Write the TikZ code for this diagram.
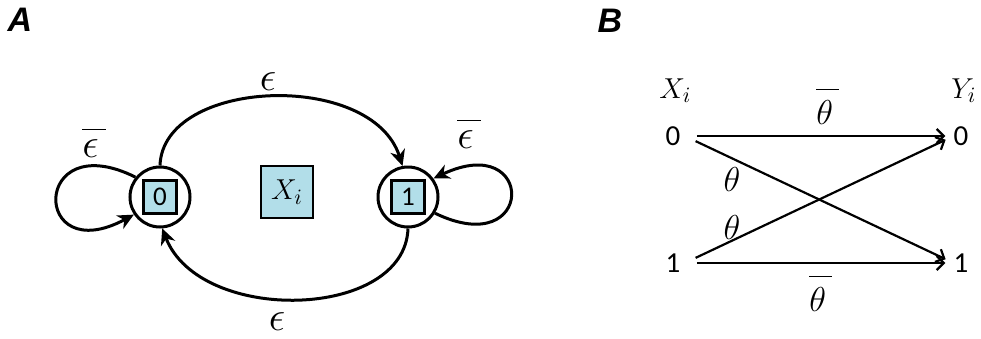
\documentclass[tikz,border=0pt]{standalone}
\usepackage{fontspec}
\newfontfamily\digitfont{Carlito}
\newfontfamily\panelfont{Liberation Sans}
\usetikzlibrary{arrows.meta}
\definecolor{stateblue}{RGB}{178,222,233}
% bar set high above its symbol, as in the figure
\newcommand{\highbar}[2]{\overline{\rule{0pt}{#1}#2\,}}

\begin{document}
\begin{tikzpicture}[x=0.5pt, y=-0.5pt,
  state/.style={circle, draw, line width=1.5pt, minimum size=30pt, inner sep=0pt},
  bit/.style={rectangle, draw, line width=1.3pt, fill=stateblue, minimum size=16.5pt, inner sep=0pt, font=\fontsize{13.5}{15}\digitfont},
  var/.style={rectangle, draw, line width=1pt, fill=stateblue, minimum size=26pt, inner sep=0pt, font=\fontsize{15}{17}\selectfont},
  dig/.style={inner sep=2pt, font=\fontsize{14.5}{16}\digitfont},
  lbl/.style={inner sep=0pt, anchor=base, font=\fontsize{15}{17}\selectfont},
  tlbl/.style={inner sep=0pt, anchor=base, font=\fontsize{16.5}{18}\selectfont},
  elbl/.style={inner sep=0pt, anchor=base, font=\fontsize{20}{22}\selectfont},
  panel/.style={inner sep=0pt, font=\fontsize{17}{19}\panelfont\bfseries\itshape},
  trans/.style={line width=1.5pt, -{Stealth[length=8pt,width=7.5pt,inset=2.5pt]}},
  chan/.style={line width=1.1pt, -{Straight Barb[length=3.5pt,width=7pt]}, shorten <=6pt, shorten >=2pt}
]
  \useasboundingbox (0,0) rectangle (981,338);

  % A: two-state chain
  \node[panel] (pa) at (20,20) {A};
  \node[state] (c0) at (160,197) {};
  \node[bit] (b0) at (c0) {0};
  \node[state] (c1) at (408,197) {};
  \node[bit] (b1) at (c1) {1};
  \node[var] (xa) at (287,192) {$X_i$};

  \draw[trans] (c0.90) .. controls (163,78) and (372,70) .. (c1.100);
  \draw[trans] (c1.270) .. controls (405,320) and (200,325) .. (c0.274);
  \draw[trans] (c0.141) .. controls (31,125) and (31,270) .. (c0.214);
  \draw[trans] (c1.-31) .. controls (536,262) and (536,130) .. (c1.36);

  \node[elbl] (e01) at (268,90) {$\epsilon$};
  \node[elbl] (e10) at (277,330) {$\epsilon$};
  \node[elbl, anchor=base west] (e00) at (82,157) {$\highbar{0.62em}{\epsilon}$};
  \node[elbl, anchor=base west] (e11) at (457,148) {$\highbar{0.62em}{\epsilon}$};

  % B: binary symmetric channel
  \node[panel] (pb) at (610,21) {B};
  \node[dig] (x0) at (673,136) {0};
  \node[dig] (x1) at (673,263) {1};
  \node[dig] (y0) at (961,136) {0};
  \node[dig] (y1) at (961,263) {1};
  \node[lbl, anchor=base west] (xl) at (659,98) {$X_i$};
  \node[lbl, anchor=base west] (yl) at (951,98) {$Y_i$};

  \draw[chan] (x0.east) -- (y0.west);
  \draw[chan] (x1.east) -- (y1.west);
  \draw[chan] (x0.east) -- (y1.170);
  \draw[chan] (x1.east) -- (y0.190);

  \node[tlbl, anchor=base west] (t00) at (816,124) {$\highbar{0.95em}{\theta}$};
  \node[tlbl, anchor=base west] (t11) at (809,311) {$\highbar{0.95em}{\theta}$};
  \node[tlbl] (t01) at (732,191) {$\theta$};
  \node[tlbl] (t10) at (732,239) {$\theta$};
\end{tikzpicture}
\end{document}
